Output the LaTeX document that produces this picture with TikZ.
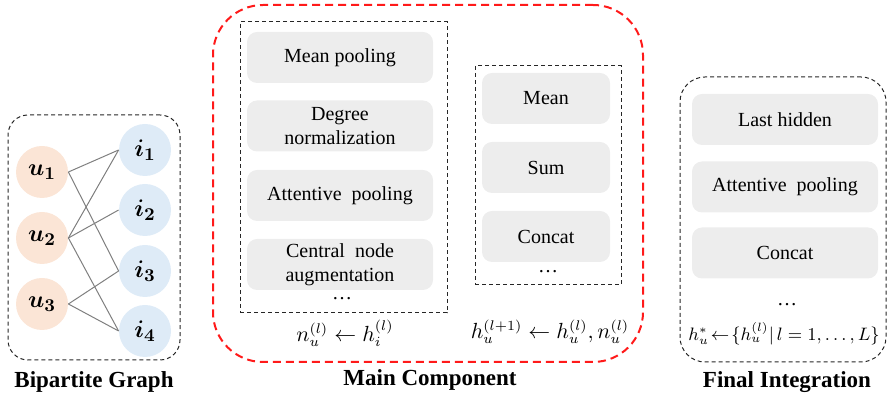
\documentclass[tikz,border=0pt]{standalone}
\usepackage{amsmath}
\usepackage{bm}
\usepackage{fontspec}
\setmainfont{Liberation Serif}
\usepackage{tikz}
\usetikzlibrary{shapes,backgrounds}

\definecolor{userfill}{HTML}{FBE5D6}
\definecolor{itemfill}{HTML}{DEEBF7}
\definecolor{opgray}{HTML}{EDEDED}
\definecolor{edgegray}{HTML}{7F7F7F}
\definecolor{mainred}{HTML}{FF1A1A}

\begin{document}
\begin{tikzpicture}[x=0.5pt,y=-0.5pt]
		\tikzstyle{user}=[circle,fill=userfill,minimum size=26pt,inner sep=0pt,font=\fontsize{13}{15}\selectfont]
		\tikzstyle{item}=[user,fill=itemfill]
		\tikzstyle{edge}=[draw=edgegray,line width=0.5pt]
		\tikzstyle{op}=[fill=opgray,rounded corners=5pt,minimum width=93pt,minimum height=25.5pt,align=center,inner sep=1pt,font=\fontsize{10}{12}\selectfont]
		\tikzstyle{op_small}=[op,minimum width=64pt]
		\tikzstyle{frame}=[draw=black!85,line width=0.5pt,dash pattern=on 2pt off 1.5pt]
		\tikzstyle{frame_main}=[draw=mainred,line width=1pt,dash pattern=on 4pt off 2.5pt,rounded corners=25pt]
		\tikzstyle{formula}=[font=\fontsize{10.5}{12}\selectfont,inner sep=1pt]
		\tikzstyle{title}=[font=\fontsize{11.5}{14}\selectfont\bfseries]

		\useasboundingbox (0,0) rectangle (888,399);

		% bipartite graph
		\begin{scope}
			\node (graph) [frame,rounded corners=10pt,minimum width=86pt,minimum height=122.5pt] at (94,237.5) {};
			\node [user] (u1) at (42,172) {$\bm{u_1}$};
			\node [user] (u2) at (42,238) {$\bm{u_2}$};
			\node [user] (u3) at (42,304) {$\bm{u_3}$};
			\node [item] (i1) at (145,150) {$\bm{i_1}$};
			\node [item] (i2) at (145,210) {$\bm{i_2}$};
			\node [item] (i3) at (145,271) {$\bm{i_3}$};
			\node [item] (i4) at (145,331) {$\bm{i_4}$};
			\foreach \u/\i in {1/1,1/3,2/1,2/2,2/4,3/3,3/4}
				\draw [edge] (u\u.east) -- (i\i.west);
			\node [title] (graph_text) at (94,382) {Bipartite Graph};
		\end{scope}

		% main component
		\begin{scope}
			\node (main) [frame_main,minimum width=215pt,minimum height=178.5pt] at (428,183.5) {};
			\node (agg) [frame,minimum width=103.5pt,minimum height=145.5pt] at (343.5,167.5) {};
			\node [op] (mean_pool) at (340,57.5) {Mean pooling};
			\node [op] (degree) at (340,126) {Degree\\normalization};
			\node [op] (att_pool) at (340,195.5) {Attentive\ \ pooling};
			\node [op] (central) at (340,264.5) {Central\ \ node\\augmentation};
			\node (agg_dots) at (342,299) {\dots};
			\node [formula] (agg_text) at (345,333) {$n_u^{(l)} \leftarrow h_i^{(l)}$};

			\node (comb) [frame,minimum width=73pt,minimum height=109.5pt] at (548,175.5) {};
			\node [op_small] (mean) at (546,98.5) {Mean};
			\node [op_small] (sum) at (546,167.5) {Sum};
			\node [op_small] (concat) at (546,236.5) {Concat};
			\node (comb_dots) at (548,272) {\dots};
			\node [formula] (comb_text) at (550,332) {$h_u^{(l+1)} \leftarrow h_u^{(l)}, n_u^{(l)}$};

			\node [title] (main_text) at (430,380) {Main Component};
		\end{scope}

		% final integration
		\begin{scope}
			\node (final) [frame,rounded corners=12.5pt,minimum width=103pt,minimum height=142.5pt] at (783,219.5) {};
			\node [op] (last) at (785,119.5) {Last hidden};
			\node [op] (att_final) at (785,187) {Attentive\ \ pooling};
			\node [op] (concat_final) at (785,253) {Concat};
			\node (final_dots) at (787,305) {\dots};
			\node [formula,font=\fontsize{9}{11}\selectfont] (final_text) at (784,334)
				{$h_u^{*}\!\leftarrow\!\{h_u^{(l)}|\,l=1,\ldots,L\}$};
			\node [title] (final_title) at (787,382) {Final Integration};
		\end{scope}

	\end{tikzpicture}
\end{document}
